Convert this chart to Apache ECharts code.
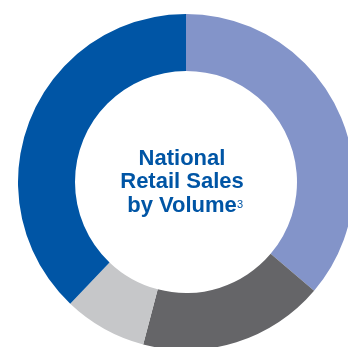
<!DOCTYPE html>
<html>
<head>
<meta charset="utf-8">
<script src="https://cdn.jsdelivr.net/npm/echarts@6/dist/echarts.min.js"></script>
<style>
  html, body { margin: 0; padding: 0; background: #fff; }
  #main { width: 348px; height: 347px; }
</style>
</head>
<body>
<div id="main"></div>
<script>
// slice data, clockwise from 12 o'clock
var sliceNames = ['A', 'B', 'C', 'D'];
var sliceValues = [36.2, 17.9, 8.0, 37.9];
var sliceColors = ['#8394c9', '#656568', '#c6c7c9', '#0055a5'];
var centerLines = ['National', 'Retail Sales', 'by Volume'];
var footnote = '3';

var chart = echarts.init(document.getElementById('main'));

var data = [];
for (var i = 0; i < sliceValues.length; i++) {
  data.push({ name: sliceNames[i], value: sliceValues[i], itemStyle: { color: sliceColors[i] } });
}

var option = {
  animation: false,
  backgroundColor: '#fff',
  series: [{
    type: 'pie',
    center: [186, 182],
    radius: [111, 168],
    startAngle: 90,
    clockwise: true,
    silent: true,
    label: { show: false },
    labelLine: { show: false },
    itemStyle: { borderWidth: 0 },
    data: data
  }],
  graphic: [
    {
      type: 'text',
      x: 182,
      y: 147,
      style: {
        text: centerLines.join('\n'),
        textAlign: 'center',
        fill: '#0055a5',
        font: 'bold 22px "Liberation Sans", Arial, sans-serif',
        lineHeight: 23.5
      }
    },
    {
      type: 'text',
      x: 237,
      y: 199,
      style: {
        text: footnote,
        fill: '#0055a5',
        font: '11px "Liberation Sans", Arial, sans-serif'
      }
    }
  ]
};
chart.setOption(option);
</script>
</body>
</html>
